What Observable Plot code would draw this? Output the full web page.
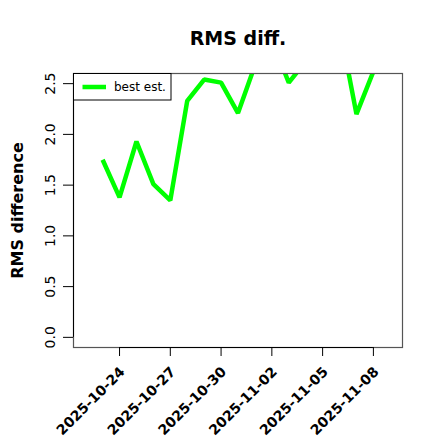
<!DOCTYPE html>
<html>
<head>
<meta charset="utf-8">
<script src="https://cdn.jsdelivr.net/npm/d3@7"></script>
<script src="https://cdn.jsdelivr.net/npm/@observablehq/plot@0.6"></script>
<style>
  html, body { margin: 0; padding: 0; background: #fff; }
  svg { font-family: "DejaVu Sans", sans-serif; }
</style>
</head>
<body>
<div id="chart"></div>
<script>
const titleText = "RMS diff.";
const yLabel = "RMS difference";
const seriesName = "best est.";
const dates = ["2025-10-23","2025-10-24","2025-10-25","2025-10-26","2025-10-27","2025-10-28","2025-10-29","2025-10-30","2025-10-31","2025-11-01","2025-11-02","2025-11-03","2025-11-04","2025-11-05","2025-11-06","2025-11-07","2025-11-08"];
const values = [1.75, 1.38, 1.93, 1.51, 1.35, 2.33, 2.54, 2.51, 2.21, 2.68, 2.93, 2.51, 2.72, 2.90, 3.07, 2.20, 2.62];
const xTickLabels = ["2025-10-24","2025-10-27","2025-10-30","2025-11-02","2025-11-05","2025-11-08"];
const yTicks = [0, 0.5, 1.0, 1.5, 2.0, 2.5];

const parse = d3.utcParse("%Y-%m-%d");
const data = dates.map((d, i) => ({date: parse(d), value: values[i]}));
const xTicks = xTickLabels.map(parse);
const day = 864e5;
const xMin = new Date(parse("2025-10-22").getTime() - 0.72 * day);
const xMax = new Date(parse("2025-11-09").getTime() + 0.72 * day);
const yMin = -0.1, yMax = 2.6;

const plot = Plot.plot({
  width: 440,
  height: 440,
  marginLeft: 73,
  marginRight: 38,
  marginTop: 73,
  marginBottom: 93,
  style: {fontFamily: "DejaVu Sans, sans-serif", background: "#fff", overflow: "visible"},
  x: {type: "utc", domain: [xMin, xMax], axis: null},
  y: {domain: [yMin, yMax], axis: null},
  marks: [
    Plot.line(data, {x: "date", y: "value", stroke: "#00ff00", strokeWidth: 4.5, clip: true, strokeLinejoin: "miter", strokeLinecap: "butt"}),
    Plot.frame({stroke: "#555", strokeWidth: 1.2}),
    Plot.ruleX([xMin], {y1: 0, y2: 2.5, stroke: "#000"}),
    Plot.ruleY([yMin], {x1: xTicks[0], x2: xTicks[xTicks.length - 1], stroke: "#000"}),
    Plot.axisY({ticks: yTicks, tickSize: 10, anchor: "left", stroke: "#000", tickFormat: () => "", label: null}),
    Plot.text(yTicks, {x: xMin, y: d => d, text: d => d3.format(".1f")(d), rotate: -90, dx: -23, fontSize: 14, fill: "#000"}),
    Plot.axisX({ticks: xTicks, tickSize: 9, anchor: "bottom", stroke: "#000", tickFormat: () => "", label: null}),
    Plot.text(xTicks, {x: d => d, y: yMin, text: d => d3.utcFormat("%Y-%m-%d")(d), rotate: -45, textAnchor: "end", dx: 3, dy: 22, fontSize: 14, fontWeight: "bold", fill: "#000"}),
    Plot.text([titleText], {frameAnchor: "top", dy: -42, text: d => d, fontSize: 19, fontWeight: "bold", fill: "#000"}),
    Plot.text([yLabel], {frameAnchor: "left", textAnchor: "middle", rotate: -90, dx: -56, text: d => d, fontSize: 16, fontWeight: "bold", fill: "#000"})
  ]
});

// legend box (top-left inside the plot frame)
const svg = d3.select(plot);
const lg = svg.append("g").attr("text-anchor", "start");
lg.append("rect").attr("x", 73.5).attr("y", 73.5).attr("width", 97.5).attr("height", 26.5)
  .attr("fill", "#fff").attr("stroke", "#000").attr("stroke-width", 1);
lg.append("line").attr("x1", 82.5).attr("x2", 106).attr("y1", 87).attr("y2", 87)
  .attr("stroke", "#00ff00").attr("stroke-width", 4.5);
lg.append("text").attr("x", 114).attr("y", 87).attr("dy", "0.35em").attr("text-anchor", "start")
  .attr("font-size", 12).attr("fill", "#000").text(seriesName);

document.getElementById("chart").appendChild(plot);
</script>
</body>
</html>
